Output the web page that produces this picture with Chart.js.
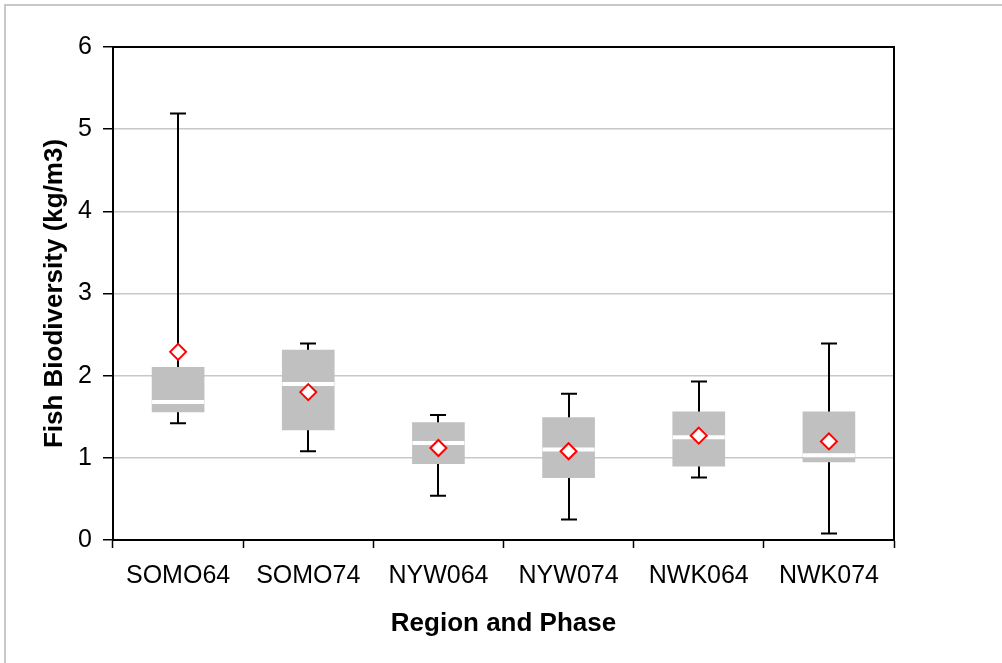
<!DOCTYPE html>
<html>
<head>
<meta charset="utf-8">
<script src="https://cdn.jsdelivr.net/npm/chart.js@4/dist/chart.umd.min.js"></script>
<style>
  body { margin: 0; background: #fff; }
  canvas { display: block; }
</style>
</head>
<body>
<canvas id="chart" width="1002" height="663"></canvas>
<script>
// values
const regions = ["SOMO64", "SOMO74", "NYW064", "NYW074", "NWK064", "NWK074"];
const minVals = [1.42, 1.08, 0.54, 0.25, 0.76, 0.08];
const q1Vals = [1.56, 1.34, 0.93, 0.76, 0.90, 0.95];
const medianVals = [1.68, 1.90, 1.18, 1.10, 1.25, 1.03];
const q3Vals = [2.10, 2.31, 1.43, 1.49, 1.56, 1.56];
const maxVals = [5.19, 2.39, 1.52, 1.78, 1.93, 2.39];
const meanVals = [2.29, 1.80, 1.12, 1.08, 1.27, 1.20];
const yTicks = [0, 1, 2, 3, 4, 5, 6];

const fontFamily = "'Liberation Sans', Arial, sans-serif";

let boxes = [];
for (let i = 0; i < regions.length; i++) {
    boxes.push([q1Vals[i], q3Vals[i]]);
}

// whiskers behind the boxes, medians on top of them, frame around the plot
const boxExtras = {
    id: "boxExtras",
    beforeDraw(chart) {
        let ctx = chart.ctx;
        ctx.save();
        ctx.strokeStyle = "#c8c8c8";
        ctx.lineWidth = 2;
        ctx.strokeRect(5, 5, 2000, 2000);
        ctx.restore();
    },
    beforeDatasetsDraw(chart) {
        let ctx = chart.ctx;
        let x = chart.scales.x;
        let y = chart.scales.y;
        ctx.save();
        ctx.strokeStyle = "#000";
        ctx.lineWidth = 2;
        for (let i = 0; i < regions.length; i++) {
            let cx = Math.round(x.getPixelForValue(i));
            let top = y.getPixelForValue(maxVals[i]);
            let bottom = y.getPixelForValue(minVals[i]);
            ctx.beginPath();
            ctx.moveTo(cx, top);
            ctx.lineTo(cx, bottom);
            ctx.moveTo(cx - 8, top);
            ctx.lineTo(cx + 8, top);
            ctx.moveTo(cx - 8, bottom);
            ctx.lineTo(cx + 8, bottom);
            ctx.stroke();
        }
        ctx.restore();
    },
    afterDatasetDraw(chart, args) {
        if (args.index !== 0) return;
        let ctx = chart.ctx;
        let y = chart.scales.y;
        let bars = chart.getDatasetMeta(0).data;
        ctx.save();
        ctx.strokeStyle = "#fff";
        ctx.lineWidth = 4;
        for (let i = 0; i < bars.length; i++) {
            let half = bars[i].width / 2;
            let my = y.getPixelForValue(medianVals[i]);
            ctx.beginPath();
            ctx.moveTo(bars[i].x - half, my);
            ctx.lineTo(bars[i].x + half, my);
            ctx.stroke();
        }
        ctx.restore();
    },
    afterDraw(chart) {
        let a = chart.chartArea;
        let ctx = chart.ctx;
        ctx.save();
        ctx.strokeStyle = "#000";
        ctx.lineWidth = 2;
        ctx.strokeRect(a.left, a.top, a.right - a.left, a.bottom - a.top);
        ctx.restore();
    }
};

new Chart(document.getElementById("chart"), {
    data: {
        labels: regions,
        datasets: [{
            type: "bar",
            data: boxes,
            backgroundColor: "#c0c0c0",
            borderWidth: 0,
            barThickness: 52,
            order: 2
        }, {
            type: "line",
            data: meanVals,
            showLine: false,
            pointStyle: "rectRot",
            pointRadius: 8,
            pointBorderWidth: 2,
            pointBorderColor: "#ff0000",
            pointBackgroundColor: "#fff",
            order: 1
        }]
    },
    options: {
        responsive: false,
        animation: false,
        layout: {
            padding: { top: 47, right: 108, bottom: 10, left: 30 }
        },
        plugins: {
            legend: { display: false },
            tooltip: { enabled: false }
        },
        scales: {
            x: {
                type: "category",
                offset: true,
                grid: {
                    offset: true,
                    drawOnChartArea: false,
                    tickLength: 8,
                    tickColor: "#000",
                    tickWidth: 1.5
                },
                border: { display: true, color: "#000", width: 2 },
                ticks: {
                    color: "#000",
                    padding: 13,
                    maxRotation: 0,
                    font: { family: fontFamily, size: 25 }
                },
                title: {
                    display: true,
                    text: "Region and Phase",
                    color: "#000",
                    padding: { top: 0, bottom: 14 },
                    font: { family: fontFamily, size: 26, weight: "bold" }
                },
                afterFit(scale) { scale.height = 113; }
            },
            y: {
                min: 0,
                max: 6,
                afterBuildTicks(scale) {
                    scale.ticks = yTicks.map(v => ({ value: v }));
                },
                grid: {
                    color: "#c8c8c8",
                    lineWidth: 1.5,
                    tickLength: 10,
                    tickColor: "#000",
                    tickWidth: 1.5
                },
                border: { display: true, color: "#000", width: 2 },
                ticks: {
                    color: "#000",
                    padding: 11,
                    font: { family: fontFamily, size: 25 }
                },
                title: {
                    display: true,
                    text: "Fish Biodiversity (kg/m3)",
                    color: "#000",
                    padding: { top: 9, bottom: 0 },
                    font: { family: fontFamily, size: 26, weight: "bold" }
                },
                afterFit(scale) { scale.width = 83; }
            }
        }
    },
    plugins: [boxExtras]
});
</script>
</body>
</html>
